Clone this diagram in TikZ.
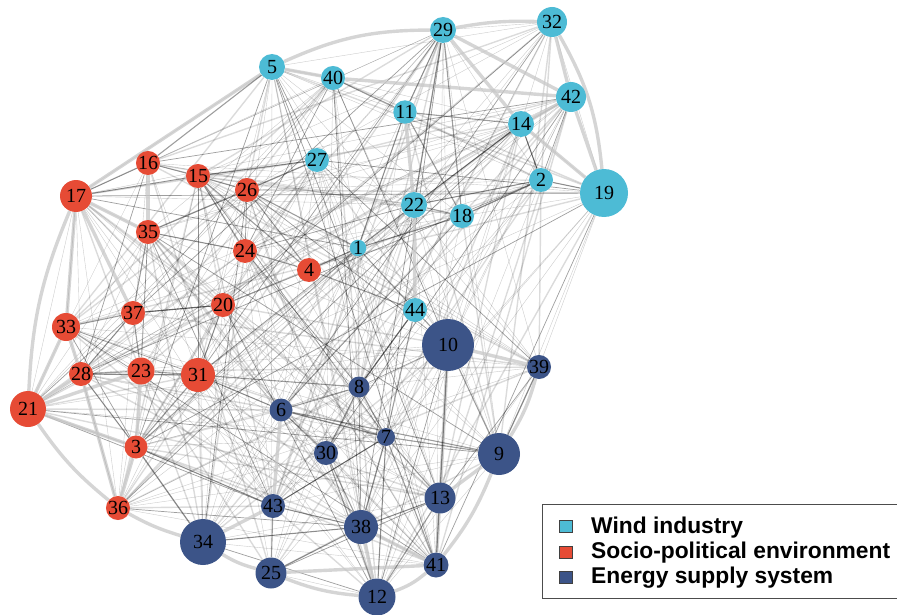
\documentclass[tikz,border=0pt]{standalone}
\usepackage{fontspec}
\setmainfont{Liberation Serif}
\newfontfamily\legfont{Liberation Sans}
\usetikzlibrary{backgrounds}
\definecolor{wind}{HTML}{4DBBD5}
\definecolor{socio}{HTML}{E64B35}
\definecolor{energy}{HTML}{3C5488}
\begin{document}
\begin{tikzpicture}[x=1pt,y=-1pt,
  vn/.style={circle, inner sep=0pt, minimum size=#1, text=black, font=\fontsize{20}{20}\selectfont},
  wn/.style={vn=#1, fill=wind},
  sn/.style={vn=#1, fill=socio},
  en/.style={vn=#1, fill=energy},
  thickedge/.style={draw=black!22, line width=3.4pt, opacity=0.75},
  midedge/.style={draw=black, line width=1.1pt, opacity=0.38},
  thinedge/.style={draw=black, line width=0.4pt, opacity=0.2},
  broadedge/.style={draw=black, line width=1.4pt, opacity=0.14},
  darkthin/.style={draw=black, line width=0.7pt, opacity=0.38},
  legsq/.style={draw=black!75, line width=0.8pt, minimum width=13pt, minimum height=12pt, inner sep=0pt},
  legtxt/.style={anchor=west, inner sep=0pt, font=\legfont\bfseries\fontsize{22.8}{22.8}\selectfont}
]
\useasboundingbox (0,0) rectangle (897,615);
% Wind industry
\node[wn=26pt] (n5) at (272,67) {5};
\node[wn=22pt] (n40) at (333,78) {40};
\node[wn=26pt] (n29) at (443,30) {29};
\node[wn=30pt] (n32) at (552,22) {32};
\node[wn=30pt] (n42) at (571,97) {42};
\node[wn=26pt] (n14) at (521,124) {14};
\node[wn=10pt] (n11) at (405,112) {11};
\node[wn=18pt] (n27) at (317,160) {27};
\node[wn=24pt] (n2) at (541,180) {2};
\node[wn=48pt] (n19) at (604,193) {19};
\node[wn=26pt] (n22) at (414,205) {22};
\node[wn=10pt] (n18) at (462,216) {18};
\node[wn=12pt] (n1) at (358,248) {1};
\node[wn=18pt] (n44) at (415,310) {44};
% Socio-political environment
\node[sn=14pt] (n16) at (148,163) {16};
\node[sn=18pt] (n15) at (198,176) {15};
\node[sn=20pt] (n26) at (247,190) {26};
\node[sn=32pt] (n17) at (76,196) {17};
\node[sn=12pt] (n35) at (148,232) {35};
\node[sn=10pt] (n24) at (245,251) {24};
\node[sn=24pt] (n4) at (309,270) {4};
\node[sn=10pt] (n20) at (223,305) {20};
\node[sn=18pt] (n37) at (133,313) {37};
\node[sn=28pt] (n33) at (66,327) {33};
\node[sn=20pt] (n28) at (81,374) {28};
\node[sn=27pt] (n23) at (141,371) {23};
\node[sn=34pt] (n31) at (198,375) {31};
\node[sn=36pt] (n21) at (28,409) {21};
\node[sn=23pt] (n3) at (136,447) {3};
\node[sn=12pt] (n36) at (118,508) {36};
% Energy supply system
\node[en=52pt] (n10) at (448,345) {10};
\node[en=23pt] (n39) at (539,367) {39};
\node[en=21pt] (n8) at (359,387) {8};
\node[en=23pt] (n6) at (281,410) {6};
\node[en=18pt] (n7) at (386,437) {7};
\node[en=23pt] (n30) at (326,453) {30};
\node[en=42pt] (n9) at (499,454) {9};
\node[en=31pt] (n13) at (440,498) {13};
\node[en=24pt] (n43) at (273,506) {43};
\node[en=34pt] (n38) at (361,527) {38};
\node[en=46pt] (n34) at (203,542) {34};
\node[en=25pt] (n41) at (436,565) {41};
\node[en=31pt] (n25) at (271,573) {25};
\node[en=37pt] (n12) at (377,597) {12};

\begin{scope}[on background layer]
  % many links
  \foreach \i in {1,...,44}{
    \foreach \j in {1,...,44}{
      \ifnum\i<\j\relax
        \pgfmathtruncatemacro\h{mod(\i*\j+5*\i+3*\j,7)}
        \ifnum\h<2\relax
          \draw[thinedge] (n\i) -- (n\j);
        \fi
        \ifnum\h=2\relax
          \draw[broadedge] (n\i) -- (n\j);
        \fi
        \ifnum\h=3\relax
          \pgfmathtruncatemacro\g{mod(\i+\j,2)}
          \ifnum\g=0\relax
            \draw[darkthin] (n\i) -- (n\j);
          \fi
        \fi
      \fi
    }
  }
  % strong light links
  \draw[thickedge] (n5) to[bend left=12] (n29);
  \draw[thickedge] (n29) to[bend left=6] (n32);
  \draw[thickedge] (n32) to[bend left=12] (n19);
  \draw[thickedge] (n42) -- (n19);
  \draw[thickedge] (n32) -- (n42);
  \draw[thickedge] (n29) -- (n42);
  \draw[thickedge] (n29) -- (n14);
  \draw[thickedge] (n14) -- (n19);
  \draw[thickedge] (n42) -- (n14);
  \draw[thickedge] (n40) -- (n42);
  \draw[thickedge] (n17) to[bend right=10] (n21);
  \draw[thickedge] (n17) -- (n33);
  \draw[thickedge] (n21) -- (n33);
  \draw[thickedge] (n21) -- (n28);
  \draw[thickedge] (n21) -- (n3);
  \draw[thickedge] (n21) to[bend right=8] (n36);
  \draw[thickedge] (n36) to[bend right=6] (n34);
  \draw[thickedge] (n34) to[bend right=8] (n25);
  \draw[thickedge] (n25) to[bend right=8] (n12);
  \draw[thickedge] (n12) to[bend right=10] (n41);
  \draw[thickedge] (n41) to[bend right=8] (n9);
  \draw[thickedge] (n9) to[bend right=8] (n39);
  \draw[thickedge] (n33) -- (n28);
  \draw[thickedge] (n28) -- (n36);
  \draw[thickedge] (n23) -- (n3);
  \draw[thickedge] (n3) -- (n36);
  \draw[thickedge] (n16) -- (n35);
  \draw[thickedge] (n11) -- (n22);
  \draw[thickedge] (n22) -- (n44);
  \draw[thickedge] (n10) -- (n13);
  \draw[thickedge] (n13) -- (n41);
  \draw[thickedge] (n34) -- (n43);
  \draw[thickedge] (n38) -- (n41);
  \draw[thickedge] (n12) -- (n38);
  \draw[thickedge] (n9) -- (n13);
  \draw[thickedge] (n25) -- (n41);
  \draw[thickedge] (n5) -- (n17);
  \draw[thickedge] (n17) -- (n35);
  \draw[thickedge] (n17) -- (n37);
  \draw[thickedge] (n21) -- (n23);
  \draw[thickedge] (n6) -- (n43);
  \draw[thickedge] (n10) -- (n39);
  \draw[thickedge] (n5) -- (n40);
  % medium dark links
  \foreach \a/\b in {35/37, 37/23, 16/15, 15/26, 26/4, 15/24, 24/4, 4/1, 1/22, 22/18,
      18/2, 2/14, 11/14, 11/29, 40/11, 27/15, 27/26, 11/18, 6/30, 6/8, 8/7, 7/41,
      7/13, 7/38, 30/38, 43/7, 43/38, 44/10, 10/9, 39/9, 31/6, 28/23, 23/31, 37/28,
      20/37, 20/4, 35/24, 12/7, 38/13, 3/31, 33/37, 28/31, 1/44, 4/44, 20/31, 8/30,
      30/12, 43/25, 7/9, 6/9, 35/26, 16/17, 5/16, 29/22, 18/29, 22/2, 1/18, 6/7,
      8/44, 26/1, 15/4, 37/20, 3/34, 3/43, 28/3, 31/8, 44/8, 7/44, 13/12, 38/25,
      34/38, 41/10, 14/22, 2/19, 1/11}{
    \draw[midedge] (n\a) -- (n\b);
  }
\end{scope}

% legend
\node[draw=black!70, line width=1pt, minimum width=358pt, minimum height=94pt, anchor=north west, inner sep=0pt] (leg) at (542,504) {};
\node[legsq, fill=wind] (lw) at (566,526) {};
\node[legsq, fill=socio] (ls) at (566,552) {};
\node[legsq, fill=energy] (le) at (566,577) {};
\node[legtxt] (lwt) at (591,528) {Wind industry};
\node[legtxt] (lst) at (591,553) {Socio-political environment};
\node[legtxt] (let) at (591,578) {Energy supply system};
\end{tikzpicture}
\end{document}
